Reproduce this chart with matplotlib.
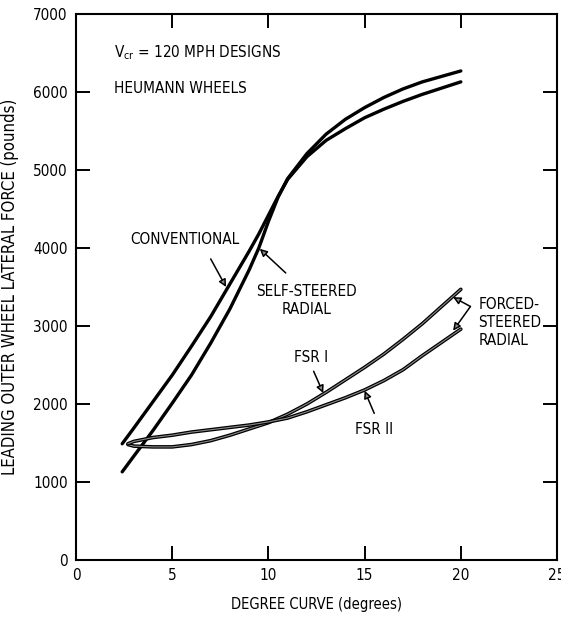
import numpy as np
import matplotlib
matplotlib.use("Agg")
import matplotlib.pyplot as plt
from matplotlib import font_manager

# narrow face like the scanned lettering, if one is available
names = {f.name for f in font_manager.fontManager.ttflist}
if 'Liberation Sans Narrow' in names:
    plt.rcParams['font.family'] = ['Liberation Sans Narrow', 'DejaVu Sans']
else:
    plt.rcParams['font.family'] = ['DejaVu Sans']
    plt.rcParams['font.stretch'] = 'condensed'

# --- data ---
conv_x = [2.4, 3, 4, 5, 6, 7, 8, 9, 9.5, 10, 10.5, 11, 12, 13, 14, 15, 16, 17, 18, 19, 20]
conv_y = [1490, 1690, 2030, 2370, 2740, 3120, 3540, 3960, 4180, 4420, 4660, 4880,
          5170, 5380, 5530, 5670, 5780, 5880, 5970, 6050, 6130]

self_x = [2.4, 3, 4, 5, 6, 7, 8, 8.5, 9, 9.5, 10, 10.5, 11, 12, 13, 14, 15, 16, 17, 18, 19, 20]
self_y = [1130, 1330, 1660, 2010, 2370, 2780, 3220, 3470, 3720, 4000, 4340, 4650, 4890,
          5210, 5460, 5650, 5800, 5930, 6040, 6130, 6200, 6270]

fsr_x = [2.7, 3, 4, 5, 6, 7, 8, 9, 10, 11, 12, 13, 14, 15, 16, 17, 18, 19, 20]
fsr1_y = [1480, 1460, 1450, 1450, 1480, 1530, 1600, 1680, 1760, 1870, 2000, 2150,
          2310, 2470, 2640, 2830, 3030, 3250, 3470]
fsr2_y = [1490, 1520, 1570, 1600, 1640, 1670, 1700, 1730, 1770, 1820, 1900, 1990,
          2080, 2180, 2300, 2440, 2620, 2790, 2960]

x_ticks = [0, 5, 10, 15, 20, 25]
y_ticks = [0, 1000, 2000, 3000, 4000, 5000, 6000, 7000]

fig = plt.figure(figsize=(5.61, 6.2), dpi=100)
ax = fig.add_axes([0.1355, 0.0968, 0.8574, 0.8806])

# main curves
ax.plot(conv_x, conv_y, color='black', lw=2.4, solid_capstyle='round')
ax.plot(self_x, self_y, color='black', lw=2.4, solid_capstyle='round')

# forced-steered radial curves (scanned look: dark edge, grey core)
for yy in (fsr1_y, fsr2_y):
    ax.plot(fsr_x, yy, color='black', lw=2.6, solid_capstyle='round')
    ax.plot(fsr_x, yy, color='#8a8a8a', lw=0.8)

# annotations
txt = dict(fontsize=11, color='black')
ax.text(2.0, 6500, r'V$_{\mathregular{cr}}$ = 120 MPH DESIGNS', va='center', ha='left', **txt)
ax.text(2.0, 6050, 'HEUMANN WHEELS', va='center', ha='left', **txt)

arrow = dict(arrowstyle='-|>', lw=1.1, color='black', fc='0.55', mutation_scale=11,
             shrinkA=0, shrinkB=0)
ax.text(5.65, 4110, 'CONVENTIONAL', ha='center', va='center', **txt)
ax.annotate('', xy=(7.8, 3500), xytext=(7.0, 3860), arrowprops=arrow)

ax.text(12.0, 3330, 'SELF-STEERED\nRADIAL', ha='center', va='center',
        linespacing=1.25, **txt)
ax.annotate('', xy=(9.55, 3990), xytext=(10.9, 3680), arrowprops=arrow)

ax.text(20.9, 3050, 'FORCED-\nSTEERED\nRADIAL', ha='left', va='center',
        linespacing=1.25, **txt)
ax.annotate('', xy=(19.6, 3370), xytext=(20.5, 3250), arrowprops=arrow)
ax.annotate('', xy=(19.6, 2940), xytext=(20.5, 3250), arrowprops=arrow)

ax.text(12.2, 2590, 'FSR I', ha='center', va='center', **txt)
ax.annotate('', xy=(12.85, 2140), xytext=(12.35, 2420), arrowprops=arrow)

ax.text(15.5, 1670, 'FSR II', ha='center', va='center', **txt)
ax.annotate('', xy=(15.0, 2170), xytext=(15.5, 1880), arrowprops=arrow)

# axes
ax.set_xlim(0, 25)
ax.set_ylim(0, 7000)
ax.set_xticks(x_ticks)
ax.set_yticks(y_ticks)
ax.tick_params(direction='in', length=10, width=1.4, labelsize=11, pad=6,
               top=True, right=True)
for s in ax.spines.values():
    s.set_linewidth(1.5)

ax.set_xlabel('DEGREE CURVE (degrees)', fontsize=10.5, labelpad=10)
ax.set_ylabel('LEADING OUTER WHEEL LATERAL FORCE (pounds)', fontsize=12, labelpad=10)

fig.savefig('out.png', dpi=100)
